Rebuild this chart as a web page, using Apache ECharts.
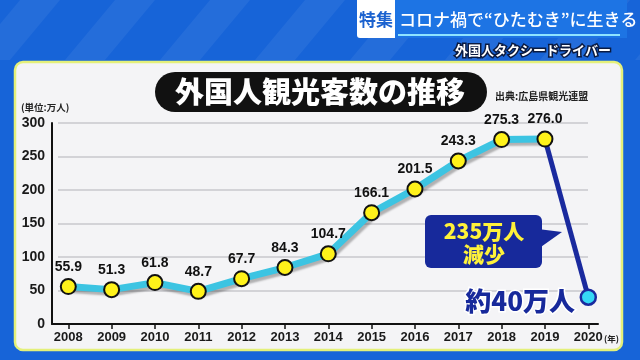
<!DOCTYPE html>
<html>
<head>
<meta charset="utf-8">
<script src="https://cdn.jsdelivr.net/npm/echarts@6/dist/echarts.min.js"></script>
<style>
html,body{margin:0;padding:0;background:#1764d8;}
#c{width:640px;height:360px;}
</style>
</head>
<body>
<div id="c"></div>
<script>
// ---- data ----
const years = [2008, 2009, 2010, 2011, 2012, 2013, 2014, 2015, 2016, 2017, 2018, 2019, 2020];
const visitors = [55.9, 51.3, 61.8, 48.7, 67.7, 84.3, 104.7, 166.1, 201.5, 243.3, 275.3, 276.0];
const visitors2020 = 40;
const yTicks = [0, 50, 100, 150, 200, 250, 300];
const titleText = '外国人観光客数の推移';
const sourceText = '出典:広島県観光連盟';
const unitText = '(単位:万人)';
const calloutLines = ['235万人', '減少'];
const endText = '約40万人';

const JP = '"Noto Sans CJK JP", "Noto Sans", sans-serif';
const NUM = '"Liberation Sans Narrow", "Liberation Sans", Arial, sans-serif';

const mainData = visitors.map((v, i) => [years[i], v]);
const dropData = [
  { value: [years[11], visitors[11]], symbol: 'none' },
  { value: [years[12], visitors2020] }
];

const chart = echarts.init(document.getElementById('c'));

const stripes = [];
for (let k = 0; k < 8; k++) {
  const x0 = -20 + k * 95;
  stripes.push({
    type: 'polygon', z: -20, silent: true,
    shape: { points: [[x0 + 40, 0], [x0 + 80, 0], [x0 + 30, 60], [x0 - 10, 60]] },
    style: { fill: 'rgba(255,255,255,0.06)' }
  });
}

chart.setOption({
  backgroundColor: '#1764d8',
  animation: false,
  grid: [
    { left: 52, right: 42, top: 123, bottom: 36, containLabel: false },
    { left: 58, right: 52, top: 123, bottom: 36, containLabel: false }
  ],
  xAxis: [
    {
      type: 'value', gridIndex: 0, min: 2007.624, max: 2020.224,
      splitLine: { show: false },
      axisLine: { show: true, lineStyle: { color: '#111', width: 2 } },
      axisTick: { show: true, customValues: years, length: 5, lineStyle: { color: '#111', width: 1.5 } },
      axisLabel: {
        show: true, customValues: years, formatter: v => String(v), margin: 7,
        color: '#1a1a1a', fontSize: 13, fontWeight: 'bold', fontFamily: NUM
      }
    },
    { type: 'value', gridIndex: 1, min: 0, max: 1, show: false }
  ],
  yAxis: [
    {
      type: 'value', gridIndex: 0, min: 0, max: 300, interval: 50,
      splitLine: { show: false },
      axisLine: { show: true, lineStyle: { color: '#111', width: 2 } },
      axisTick: { show: false },
      axisLabel: {
        margin: 7, color: '#1a1a1a', fontSize: 14, fontWeight: 'bold', fontFamily: NUM,
        customValues: yTicks
      }
    },
    {
      type: 'value', gridIndex: 1, min: 0, max: 300, interval: 50,
      axisLine: { show: false }, axisTick: { show: false }, axisLabel: { show: false },
      splitLine: { show: true, lineStyle: { color: '#c9c9cc', width: 1.5 } }
    }
  ],
  series: [
    {
      type: 'line', xAxisIndex: 0, yAxisIndex: 0, z: 2,
      data: dropData,
      lineStyle: { color: '#1a2a9e', width: 5 },
      symbol: 'circle', symbolSize: 15,
      itemStyle: { color: '#35d8f5', borderColor: '#1a2a9e', borderWidth: 2.5 },
      label: { show: false }
    },
    {
      type: 'line', xAxisIndex: 0, yAxisIndex: 0, z: 4,
      data: mainData,
      lineStyle: {
        color: '#3cc4e2', width: 7,
        shadowColor: 'rgba(0,0,0,0.28)', shadowBlur: 2, shadowOffsetX: 2, shadowOffsetY: 3
      },
      symbol: 'circle', symbolSize: 15,
      itemStyle: { color: '#fff21a', borderColor: '#111', borderWidth: 2 },
      label: {
        show: true, position: 'top', distance: 4,
        formatter: p => p.value[1].toFixed(1),
        color: '#111', fontSize: 14, fontWeight: 'bold', fontFamily: NUM
      }
    }
  ],
  graphic: [
    ...stripes,
    // header
    { type: 'rect', z: -10, silent: true, shape: { x: 395, y: 0, width: 232, height: 38 },
      style: { fill: '#1d74e4' } },
    { type: 'rect', z: -9, silent: true, shape: { x: 357, y: 0, width: 38, height: 38, r: [0, 0, 0, 3] },
      style: { fill: '#ffffff' } },
    { type: 'text', z: 10, style: { text: '特集', x: 376, y: 20, align: 'center', verticalAlign: 'middle',
      fill: '#1b62cf', font: 'bold 17px ' + JP } },
    { type: 'text', z: 10, style: { text: 'コロナ禍で“ひたむき”に生きる', x: 399, y: 20, align: 'left', verticalAlign: 'middle',
      fill: '#ffffff', font: '500 17px ' + JP } },
    { type: 'line', z: 10, silent: true, shape: { x1: 398, y1: 35, x2: 620, y2: 35 },
      style: { stroke: '#8fe3ff', lineWidth: 2 } },
    { type: 'text', z: 10, style: { text: '外国人タクシードライバー', x: 611, y: 50, align: 'right', verticalAlign: 'middle',
      fill: '#ffffff', font: 'bold 13px ' + JP, stroke: '#0a1a40', lineWidth: 3 } },
    // panel
    { type: 'rect', z: -8, silent: true, shape: { x: 15, y: 62, width: 607, height: 288, r: 8 },
      style: { fill: '#f4f4f6', stroke: '#e4f07a', lineWidth: 2.5 } },
    // title pill
    { type: 'rect', z: 10, silent: true, shape: { x: 155, y: 72, width: 332, height: 40, r: 20 },
      style: { fill: '#111111' } },
    { type: 'text', z: 11, style: { text: titleText, x: 320, y: 92, align: 'center', verticalAlign: 'middle',
      fill: '#ffffff', font: '900 29px ' + JP } },
    { type: 'text', z: 11, style: { text: sourceText, x: 495, y: 96, align: 'left', verticalAlign: 'middle',
      fill: '#222', font: 'bold 10px ' + JP } },
    { type: 'text', z: 11, style: { text: unitText, x: 21, y: 107, align: 'left', verticalAlign: 'middle',
      fill: '#222', font: 'bold 9.5px ' + JP } },
    { type: 'text', z: 11, style: { text: '(年)', x: 604, y: 339, align: 'left', verticalAlign: 'middle',
      fill: '#222', font: 'bold 8.5px ' + JP } },
    // callout
    { type: 'polygon', z: 10, silent: true, shape: { points: [[538, 229], [562, 232], [538, 249]] },
      style: { fill: '#17299b' } },
    { type: 'rect', z: 10, silent: true, shape: { x: 425, y: 215, width: 117, height: 53, r: 6 },
      style: { fill: '#17299b' } },
    { type: 'text', z: 11, style: { text: calloutLines[0], x: 484, y: 231, align: 'center', verticalAlign: 'middle',
      fill: '#fff23a', font: '900 21px ' + JP } },
    { type: 'text', z: 11, style: { text: calloutLines[1], x: 484, y: 254, align: 'center', verticalAlign: 'middle',
      fill: '#fff23a', font: '900 21px ' + JP } },
    { type: 'text', z: 11, style: { text: endText, x: 575, y: 301, align: 'right', verticalAlign: 'middle',
      fill: '#17299b', font: '900 26px ' + JP, stroke: '#ffffff', lineWidth: 3 } }
  ]
});
</script>
</body>
</html>
